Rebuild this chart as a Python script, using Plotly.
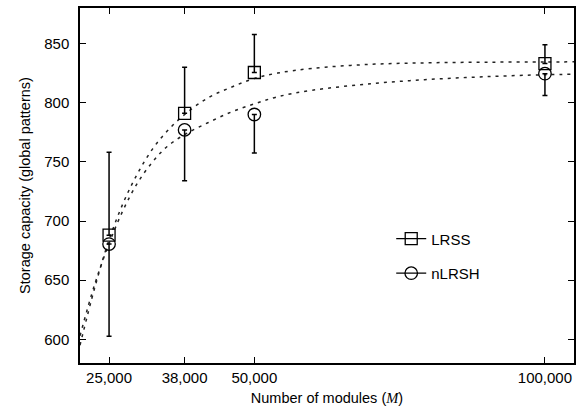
import plotly.graph_objects as go

# ---- data ----
modules = [25000, 38000, 50000, 100000]
lrss = [688, 791, 825.5, 833]
lrss_err_up = [70, 39, 32, 16]
nlrsh = [680.5, 777, 790, 824.5]
nlrsh_err_down = [78, 43, 32.5, 18.5]

# fitted curves
fit_x = [20000, 22500, 25000, 27500, 30000, 32500, 35000, 38000, 42000, 46000,
         50000, 54000, 60000, 70000, 80000, 90000, 100000, 105000]
lrss_fit = [595, 643, 684, 716, 741, 761, 776, 790, 804, 813,
            820.5, 825, 829, 832.4, 833.7, 834.2, 834.4, 834.5]
nlrsh_fit = [603, 646, 681, 710, 733, 750, 763, 773, 783, 792,
             799, 805, 810.5, 816, 819.6, 822, 823.6, 824]

x_tickvals = [25000, 38000, 50000, 100000]
x_ticktext = ["25,000", "38,000", "50,000", "100,000"]
y_tickvals = [600, 650, 700, 750, 800, 850]

FONT = "Liberation Sans, Arial, sans-serif"
fig = go.Figure()

dash = "3px,5px"
fig.add_trace(go.Scatter(x=fit_x, y=lrss_fit, mode="lines", line=dict(color="#222", width=1.5, dash=dash, shape="spline"),
                         showlegend=False, hoverinfo="skip"))
fig.add_trace(go.Scatter(x=fit_x, y=nlrsh_fit, mode="lines", line=dict(color="#222", width=1.5, dash=dash, shape="spline"),
                         showlegend=False, hoverinfo="skip"))

fig.add_trace(go.Scatter(
    x=modules, y=lrss, mode="markers", showlegend=False,
    marker=dict(symbol="square-open", size=12, color="black", line=dict(width=1.3, color="black")),
    error_y=dict(type="data", symmetric=False, array=lrss_err_up, arrayminus=[0]*len(modules),
                 color="black", thickness=1.5, width=2.5)))
fig.add_trace(go.Scatter(
    x=modules, y=nlrsh, mode="markers", showlegend=False,
    marker=dict(symbol="circle-open", size=12.5, color="black", line=dict(width=1.3, color="black")),
    error_y=dict(type="data", symmetric=False, array=[0]*len(modules), arrayminus=nlrsh_err_down,
                 color="black", thickness=1.5, width=2.5)))

# legend entries
fig.add_trace(go.Scatter(x=[None], y=[None], mode="lines+markers", name="LRSS", legendgroup="a",
                         line=dict(color="black", width=1.3),
                         marker=dict(symbol="square-open", size=12, color="black", line=dict(width=1.3))))
fig.add_trace(go.Scatter(x=[None], y=[None], mode="lines+markers", name="nLRSH", legendgroup="b",
                         line=dict(color="black", width=1.3),
                         marker=dict(symbol="circle-open", size=12.5, color="black", line=dict(width=1.3))))

axis_common = dict(showline=True, linecolor="black", linewidth=1.5, mirror="ticks",
                   ticks="inside", ticklen=6, tickwidth=1, tickcolor="black",
                   showgrid=False, zeroline=False,
                   tickfont=dict(family=FONT, size=15, color="black"))

fig.update_layout(
    width=582, height=410,
    margin=dict(l=80, r=6, t=7, b=47),
    paper_bgcolor="white", plot_bgcolor="white",
    font=dict(family=FONT, color="black"),
    xaxis=dict(range=[20000, 105000], tickvals=x_tickvals, ticktext=x_ticktext,
               title=dict(text="Number of modules (<span style=\"font-family:Liberation Serif\"><i>M</i></span>)",
                          font=dict(family=FONT, size=14.5), standoff=8),
               **axis_common),
    yaxis=dict(range=[580, 880], tickvals=y_tickvals,
               title=dict(text="Storage capacity (global patterns)", font=dict(family=FONT, size=14.5), standoff=10),
               ticklabelstandoff=6,
               **axis_common),
    legend=dict(x=0.63, y=0.396, xanchor="left", yanchor="top", bgcolor="rgba(0,0,0,0)",
                font=dict(family=FONT, size=15), tracegroupgap=12, traceorder="grouped"),
)

fig.write_html("out.html")
